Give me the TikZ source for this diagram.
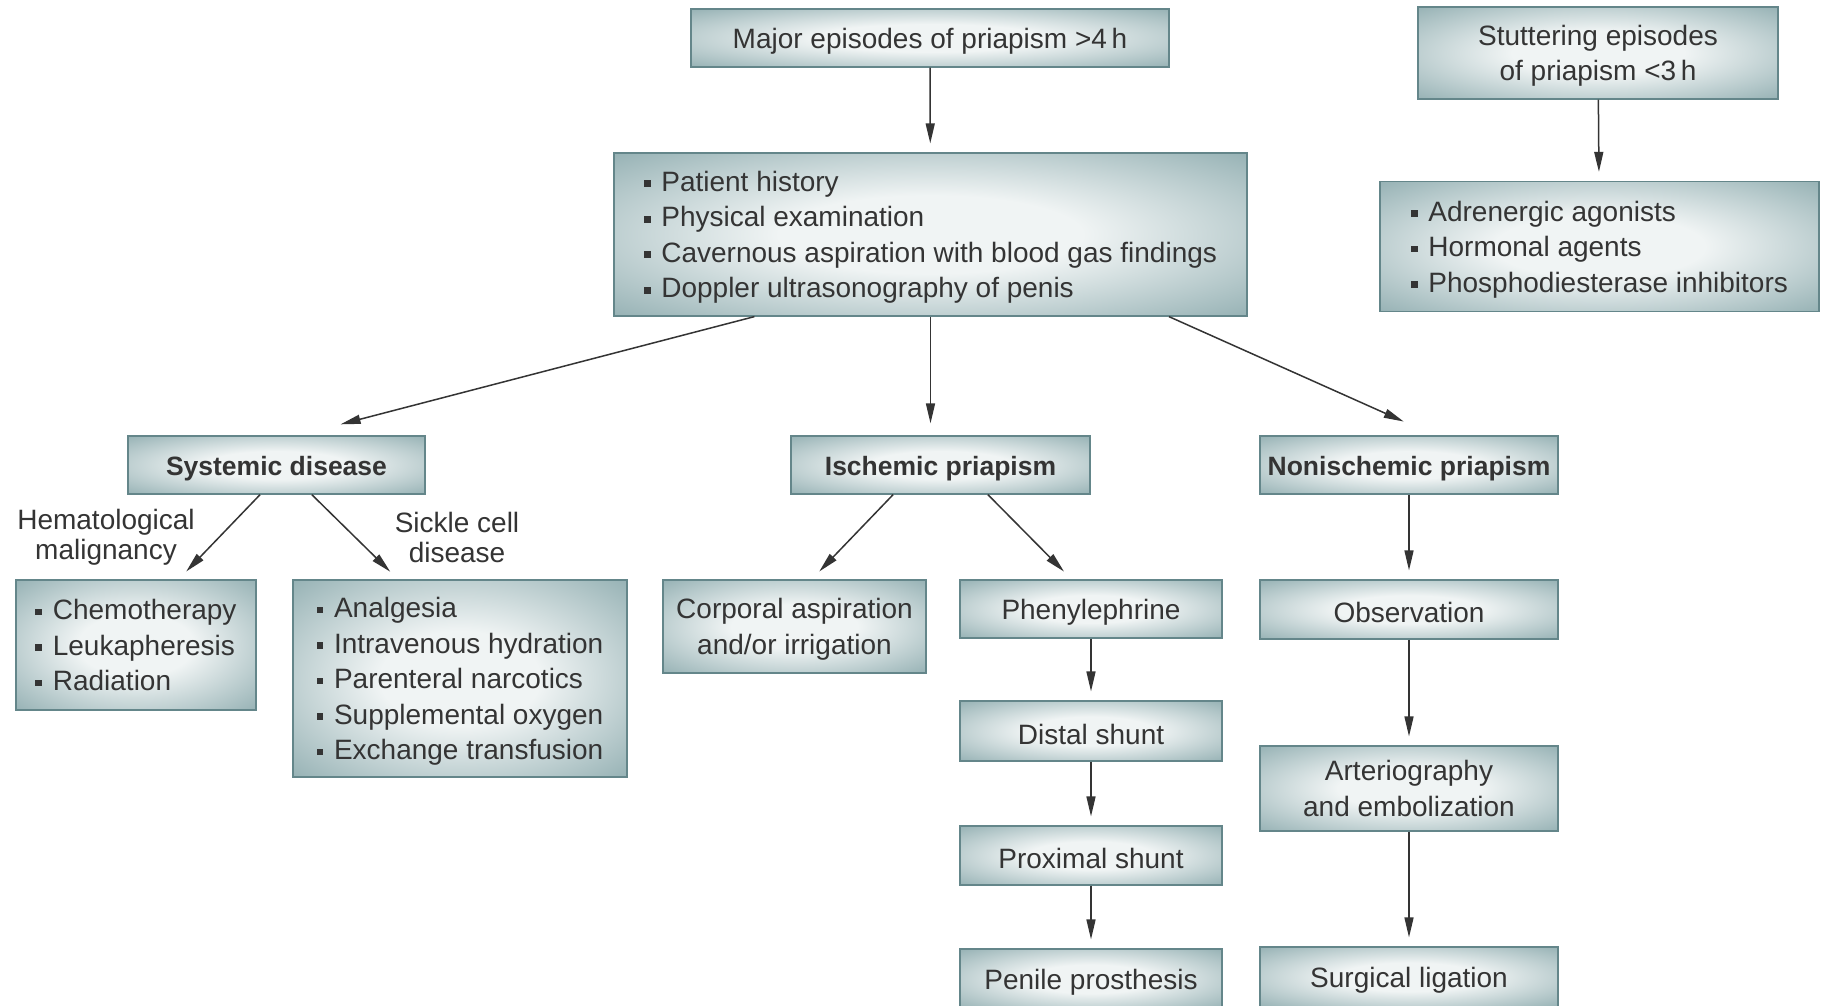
\documentclass[tikz,border=0pt]{standalone}
\usepackage{fontspec}
\setmainfont{Liberation Sans}
\usetikzlibrary{arrows.meta}

\definecolor{boxin}{RGB}{240,244,244}
\definecolor{boxout}{RGB}{114,151,155}
\definecolor{boxline}{RGB}{100,134,138}
\definecolor{ink}{RGB}{52,52,52}

\pgfdeclareradialshading{boxshade}{\pgfpoint{0bp}{0bp}}{color(0bp)=(boxin); color(12bp)=(boxin); color(45bp)=(boxout); color(75bp)=(boxout)}

\newcommand{\sq}{\raisebox{0.15em}{\rule{0.24em}{0.24em}}\hspace{0.38em}}

\tikzset{
    box/.style = {rectangle, shading=boxshade, draw=boxline, line width=1.2pt, text=ink, font=\fontsize{28}{35.5}\selectfont, align=center, inner sep=0pt, execute at begin node={\rule{0pt}{27pt}}},
    head/.style = {box, font=\fontsize{26.5}{32}\selectfont\bfseries},
    multi/.style = {box, text depth=0pt},
    list/.style = {multi, align=left},
    lbl/.style = {text=ink, font=\fontsize{28}{30}\selectfont, align=center},
    arr/.style = {-{Triangle[length=20pt,width=9pt]}, line width=1.5pt, draw=ink, shorten >=9pt},
}

\begin{document}
\begin{tikzpicture}[x=1pt, y=-1pt]
    \path[use as bounding box, fill=white] (0,0) rectangle (1822,1005);
    \clip (0,0) rectangle (1822,1005);

    \node[box, minimum width=478pt, minimum height=58pt] (major) at (930,38) {Major episodes of priapism >4\,h};
    \node[multi, minimum width=360pt, minimum height=92pt] (stutter) at (1598,53) {Stuttering episodes\\of priapism <3\,h};

    \node[list, minimum width=633pt, minimum height=163pt] (workup) at (930.5,234.5) {\sq Patient history\\\sq Physical examination\\\sq Cavernous aspiration with blood gas findings\\\sq Doppler ultrasonography of penis};
    \node[list, minimum width=439pt, minimum height=130pt] (agents) at (1599.5,246.5) {\sq Adrenergic agonists\\\sq Hormonal agents\\\sq Phosphodiesterase inhibitors};

    \node[head, minimum width=297pt, minimum height=58pt] (systemic) at (276.5,465) {Systemic disease};
    \node[head, minimum width=299pt, minimum height=58pt] (ischemic) at (940.5,465) {Ischemic priapism};
    \node[head, minimum width=298pt, minimum height=58pt] (nonisch) at (1409,465) {Nonischemic priapism};

    \node[lbl] (hemlab) at (106,537) {Hematological\\malignancy};
    \node[lbl] (sicklab) at (457,537) {Sickle cell\\disease};

    \node[list, minimum width=240pt, minimum height=130pt] (hemato) at (136,645) {\sq Chemotherapy\\\sq Leukapheresis\\\sq Radiation};
    \node[list, minimum width=334pt, minimum height=197pt] (sickle) at (460,678.5) {\sq Analgesia\\\sq Intravenous hydration\\\sq Parenteral narcotics\\\sq Supplemental oxygen\\\sq Exchange transfusion};
    \node[multi, minimum width=263pt, minimum height=93pt] (corporal) at (794.5,626.5) {Corporal aspiration\\and/or irrigation};

    \node[box, minimum width=262pt, minimum height=58pt] (phenyl) at (1091,609) {Phenylephrine};
    \node[box, minimum width=262pt, minimum height=60pt] (distal) at (1091,731) {Distal shunt};
    \node[box, minimum width=262pt, minimum height=59pt] (proximal) at (1091,855.5) {Proximal shunt};
    \node[box, minimum width=262pt, minimum height=60pt] (penile) at (1091,979) {Penile prosthesis};

    \node[box, minimum width=298pt, minimum height=59pt] (observ) at (1409,609.5) {Observation};
    \node[multi, minimum width=298pt, minimum height=85pt] (arterio) at (1409,788.5) {Arteriography\\and embolization};
    \node[box, minimum width=298pt, minimum height=60pt] (surgical) at (1409,977) {Surgical ligation};

    \draw[arr] (major) -- (workup);
    \draw[arr] (stutter) -- (agents);
    \draw[arr, shorten >=44pt] (workup.205.3) -- (systemic.54.7);
    \draw[arr, shorten >=12pt] (workup.south) -- (workup.south |- ischemic.north);
    \draw[arr, shorten >=34pt] (workup.341.1) -- (nonisch.49.2);

    \draw[arr, shorten >=11pt] (systemic.241.9) -- (hemato.57);
    \draw[arr, shorten >=11pt] (systemic.320) -- (sickle.122.2);
    \draw[arr, shorten >=11pt] (ischemic.212.5) -- (corporal.70.2);
    \draw[arr, shorten >=11pt] (ischemic.328.6) -- (phenyl.123.5);

    \foreach \a/\b in {phenyl/distal, distal/proximal, proximal/penile, nonisch/observ, observ/arterio, arterio/surgical}
        \draw[arr] (\a) -- (\b);

\end{tikzpicture}
\end{document}
